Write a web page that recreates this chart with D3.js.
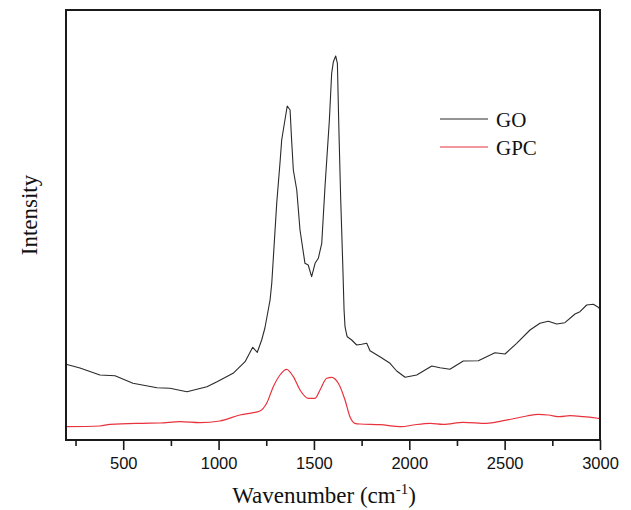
<!DOCTYPE html>
<html>
<head>
<meta charset="utf-8">
<script src="https://cdn.jsdelivr.net/npm/d3@7"></script>
<style>
  body { margin: 0; background: #fff; }
  svg { display: block; }
</style>
</head>
<body>
<svg id="chart" width="631" height="510"></svg>
<script>
// Wavenumber (cm-1) and intensity (arbitrary units)
const goWavenumber = [200,273,378,457,551,677,745,834,939,992,1076,1139,1179,1203,1226,1243,1270,1279,1305,1322,1331,1348,1360,1375,1383,1392,1410,1427,1453,1470,1488,1506,1523,1541,1558,1581,1593,1602,1614,1623,1631,1640,1651,1658,1663,1672,1675,1698,1724,1750,1777,1794,1846,1899,1934,1978,2039,2118,2161,2213,2283,2362,2449,2502,2563,2633,2685,2729,2773,2816,2869,2895,2930,2965,2991,3000];
const goIntensity = [75.7,72,65,64.3,56.7,52.3,51.7,48.3,53.3,58.3,66.7,78.3,92.7,87.7,100,112,140,157,237,277,300,320,334,330,300,270,250,210,176.7,175,163.3,176.7,181.7,196.7,253.3,320,366.7,378.3,384,376.7,310,243.3,176.7,130,113.3,105,103.3,100,95,95.7,96.7,89.3,83.3,76.7,69,62.7,65,74,72.3,70.7,79,79.3,87.3,86,96.7,110,116.7,118.7,116,117.3,126,128.3,135,135.7,132.7,131];

const gpcWavenumber = [200,378,431,604,693,798,903,1007,1112,1217,1252,1287,1322,1357,1392,1427,1470,1506,1532,1567,1593,1628,1663,1689,1715,1742,1846,1960,2021,2109,2178,2283,2406,2493,2616,2677,2729,2790,2843,2913,2991,3000];
const gpcIntensity = [13.3,14,15.7,16.7,17,18.3,17.3,19,25,29,36.7,53.3,65,70.7,63.3,50,41.7,41.7,50,61.7,62.7,56.7,40,23.3,16.7,16,15.3,13.3,15,16.7,15.7,17.7,16.7,19.3,24,25.7,25,23.3,24.3,23.3,21.7,21.5];

const xMajorTicks = [500,1000,1500,2000,2500,3000];
const xMinorTicks = [250,750,1250,1750,2250,2750];
const seriesNames = ["GO","GPC"];

const svg = d3.select("#chart");
const L = 66, R = 600, T = 10, B = 440;

const x = d3.scaleLinear().domain([200, 3000]).range([L, R]);
const y = d3.scaleLinear().domain([0, 430]).range([B, T]);

const colors = { GO: "#2a2a2a", GPC: "#e8323c" };

// data lines
const line = d3.line().x(d => x(d[0])).y(d => y(d[1]));
const goData = goWavenumber.map((w, i) => [w, goIntensity[i]]);
const gpcData = gpcWavenumber.map((w, i) => [w, gpcIntensity[i]]);

svg.append("path").datum(goData)
  .attr("d", line)
  .attr("fill", "none").attr("stroke", colors.GO).attr("stroke-width", 1.1)
  .attr("stroke-linejoin", "round");
svg.append("path").datum(gpcData)
  .attr("d", d3.line().x(d => x(d[0])).y(d => y(d[1])).curve(d3.curveMonotoneX))
  .attr("fill", "none").attr("stroke", colors.GPC).attr("stroke-width", 1.2);

// frame
svg.append("rect")
  .attr("x", L).attr("y", T).attr("width", R - L).attr("height", B - T)
  .attr("fill", "none").attr("stroke", "#1a1a1a").attr("stroke-width", 2);

// x axis major
const xAxis = svg.append("g").attr("transform", `translate(0,${B})`)
  .call(d3.axisBottom(x).tickValues(xMajorTicks).tickSize(10).tickPadding(7).tickFormat(d3.format("d")));
xAxis.select(".domain").remove();
xAxis.selectAll(".tick line").attr("stroke", "#1a1a1a").attr("stroke-width", 1.6);
xAxis.selectAll(".tick text")
  .attr("font-family", "'Liberation Sans', Arial, sans-serif")
  .attr("font-size", 16.5).attr("fill", "#111");

// x axis minor
const xMinor = svg.append("g").attr("transform", `translate(0,${B})`)
  .call(d3.axisBottom(x).tickValues(xMinorTicks).tickSize(6).tickFormat(""));
xMinor.select(".domain").remove();
xMinor.selectAll(".tick line").attr("stroke", "#1a1a1a").attr("stroke-width", 1.6);

// axis titles
const xt = svg.append("text")
  .attr("x", 324).attr("y", 503)
  .attr("text-anchor", "middle")
  .attr("font-family", "'Liberation Serif', 'Times New Roman', serif")
  .attr("font-size", 23).attr("fill", "#111");
xt.append("tspan").text("Wavenumber (cm");
xt.append("tspan").attr("font-size", 15).attr("dy", -9).text("-1");
xt.append("tspan").attr("dy", 9).text(")");

svg.append("text")
  .attr("transform", `translate(37,215) rotate(-90)`)
  .attr("text-anchor", "middle")
  .attr("font-family", "'Liberation Serif', 'Times New Roman', serif")
  .attr("font-size", 23).attr("fill", "#111")
  .text("Intensity");

// legend
const legend = svg.append("g");
seriesNames.forEach((name, i) => {
  const ly = 119 + i * 28;
  legend.append("line")
    .attr("x1", 440).attr("x2", 488).attr("y1", ly).attr("y2", ly)
    .attr("stroke", colors[name]).attr("stroke-width", 1.1);
  legend.append("text")
    .attr("x", 496).attr("y", ly + 7.5)
    .attr("font-family", "'Liberation Serif', 'Times New Roman', serif")
    .attr("font-size", 21).attr("fill", "#111")
    .text(name);
});
</script>
</body>
</html>
